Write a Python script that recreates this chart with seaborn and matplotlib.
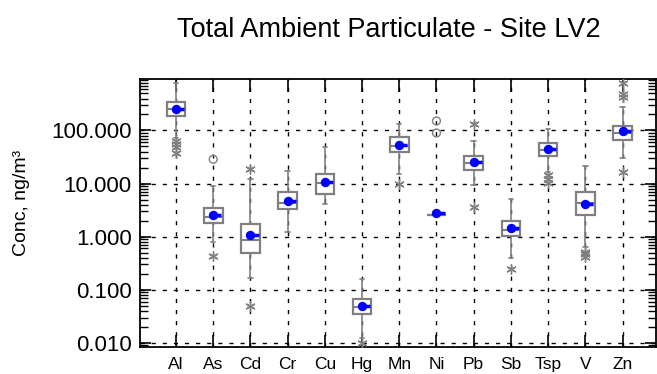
import numpy as np
import pandas as pd
import matplotlib
matplotlib.use("Agg")
import matplotlib.pyplot as plt
import seaborn as sns
from matplotlib.ticker import LogLocator, FixedLocator, FuncFormatter, NullFormatter

categories = ["Al", "As", "Cd", "Cr", "Cu", "Hg", "Mn", "Ni", "Pb", "Sb", "Tsp", "V", "Zn"]
whisker_low = [72, 0.805, 0.165, 1.24, 4.13, 0.0124, 15.0, 2.6, 9.5, 0.392, 16.7, 0.648, 30.8]
q1 = [185, 1.79, 0.486, 3.33, 6.29, 0.0355, 38.8, 2.6, 18.3, 1.03, 33.1, 2.57, 67.2]
median = [251, 2.32, 0.88, 4.31, 10.4, 0.048, 51.0, 2.6, 24.1, 1.36, 42.9, 4.36, 91.0]
q3 = [340, 3.43, 1.73, 7.03, 14.96, 0.0662, 76.5, 2.6, 32.7, 2.0, 57.4, 6.95, 123]
whisker_high = [800, 8.9, 12.4, 17.5, 48.9, 0.16, 132, 2.6, 64.3, 5.06, 105, 21.2, 274]
means = [257, 2.53, 1.08, 4.77, 10.7, 0.0495, 53.3, 2.83, 25.8, 1.44, 44.3, 4.13, 99]

outlier_cat = ["Al", "Al", "Al", "Al", "As", "As", "Cd", "Cd", "Hg", "Mn",
               "Ni", "Ni",
               "Pb", "Pb", "Sb", "Tsp", "Tsp", "Tsp", "V", "V", "V", "Zn", "Zn", "Zn", "Zn"]
outlier_val = [63, 56, 48, 37, 28.7, 0.44, 18.6, 0.049, 0.0101, 9.8,
               151, 89.7,
               131, 3.67, 0.243, 14.5, 12.4, 10.4, 0.522, 0.467, 0.42, 774, 481, 433, 16.3]
outlier_kind = ["star"] * 4 + ["circle", "star"] + ["star"] * 4 + ["circle", "circle"] + ["star"] * 13

title = "Total Ambient Particulate - Site LV2"
ylabel = "Conc, ng/m\u00b3"

sns.set_style("ticks")
plt.rcParams["font.family"] = ["Liberation Sans", "DejaVu Sans"]
plt.rcParams["text.color"] = "black"
plt.rcParams["xtick.color"] = "black"
plt.rcParams["ytick.color"] = "black"
plt.rcParams["xtick.labelcolor"] = "black"
plt.rcParams["ytick.labelcolor"] = "black"

GRAY = "#808080"
BLUE = "#0000FF"

fig = plt.figure(figsize=(6.57, 3.74), dpi=100)
ax = fig.add_axes([140 / 657, 1 - 347.3 / 374, 516 / 657, (347.3 - 79.3) / 374])

pos = {c: i for i, c in enumerate(categories)}
stats = []
for i, c in enumerate(categories):
    stats.append(dict(label=c, med=median[i], q1=q1[i], q3=q3[i],
                      whislo=whisker_low[i], whishi=whisker_high[i], fliers=[]))
ax.bxp(stats, positions=list(range(len(categories))), widths=0.5, showfliers=False,
       capwidths=0.12, patch_artist=True,
       boxprops=dict(facecolor="white", edgecolor=GRAY, linewidth=1.6),
       medianprops=dict(color=GRAY, linewidth=1.5),
       whiskerprops=dict(color=GRAY, linewidth=1.2),
       capprops=dict(color=GRAY, linewidth=1.2), zorder=3)

df_out = pd.DataFrame({"cat": outlier_cat, "val": outlier_val, "kind": outlier_kind})
df_out["pos"] = df_out["cat"].map(pos)
stars = df_out[df_out["kind"] == "star"]
circles = df_out[df_out["kind"] == "circle"]
sns.scatterplot(data=stars, x="pos", y="val", marker=(6, 2, 0), s=45,
                color=GRAY, linewidth=1.0, ax=ax, legend=False, zorder=4)
ax.collections[-1].set_edgecolor(GRAY)
sns.scatterplot(data=circles, x="pos", y="val", marker="o", s=32,
                ax=ax, legend=False, zorder=4)
ax.collections[-1].set_facecolor("none")
ax.collections[-1].set_edgecolor(GRAY)
ax.collections[-1].set_linewidth(1.0)

df_mean = pd.DataFrame({"cat": categories, "mean": means})
df_mean["pos"] = df_mean["cat"].map(pos)
ax.hlines(df_mean["mean"], df_mean["pos"], df_mean["pos"] + 0.22, color=BLUE, linewidth=2.5, zorder=5)
sns.scatterplot(data=df_mean, x="pos", y="mean", color=BLUE, s=46, linewidth=0,
                ax=ax, legend=False, zorder=6)

ax.set_yscale("log")
ax.set_ylim(0.00826, 920)
ax.set_xlim(-0.968, 12.9)
ax.xaxis.set_major_locator(FixedLocator(list(range(len(categories)))))
ax.set_xticklabels(categories)
ax.yaxis.set_major_locator(FixedLocator([0.01, 0.1, 1, 10, 100]))
ax.yaxis.set_major_formatter(FuncFormatter(lambda v, p: f"{v:.3f}"))
ax.yaxis.set_minor_locator(LogLocator(base=10, subs=np.arange(2, 10), numticks=20))
ax.yaxis.set_minor_formatter(NullFormatter())

ax.grid(True, which="major", color="black", linestyle=(0, (3, 5)), linewidth=1.0, zorder=0)
ax.set_axisbelow(True)
for s in ax.spines.values():
    s.set_color("black")
    s.set_linewidth(1.3)

ax.tick_params(axis="both", which="both", direction="in", top=True, right=True, color="black")
ax.tick_params(axis="x", which="major", length=9, width=1.2, labelsize=12.5, pad=7, labelcolor="black")
ax.tick_params(axis="y", which="major", length=8, width=1.2, labelsize=16, pad=6, labelcolor="black")
ax.tick_params(axis="y", which="minor", length=6, width=1.0)
ax.set_xlabel("")
ax.set_ylabel("")

fig.text(22 / 657, 1 - 203 / 374, ylabel, rotation=90, ha="center", va="center",
         fontsize=14, color="black")
fig.text(388.5 / 657, 1 - 36.7 / 374, title, ha="center", va="baseline",
         fontsize=19.5, color="black")

fig.savefig("out.png", dpi=100)
